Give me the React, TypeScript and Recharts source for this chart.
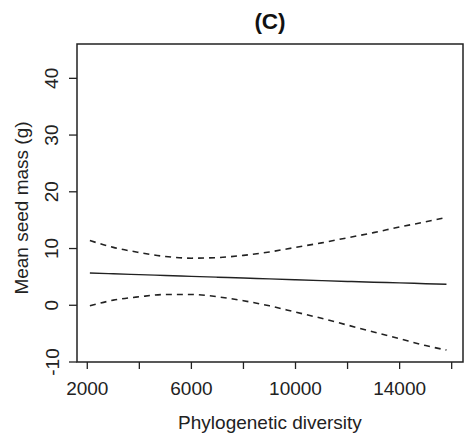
import { LineChart, Line, XAxis, YAxis, ReferenceArea, Label } from "recharts";

// values
const diversity = [2100, 3000, 4000, 5000, 6000, 7000, 8000, 9000, 10000, 11000, 12000, 13000, 14000, 15000, 15800];
const fitted = [5.7, 5.55, 5.4, 5.25, 5.1, 4.95, 4.8, 4.65, 4.5, 4.35, 4.2, 4.05, 3.95, 3.8, 3.7];
const upperCI = [11.4, 10.2, 9.3, 8.6, 8.3, 8.4, 8.8, 9.4, 10.2, 11.0, 11.9, 12.8, 13.8, 14.7, 15.5];
const lowerCI = [-0.1, 0.9, 1.5, 1.9, 1.9, 1.5, 0.8, -0.1, -1.2, -2.3, -3.5, -4.7, -5.9, -7.1, -7.9];

const xTicks = [2000, 4000, 6000, 8000, 10000, 12000, 14000, 16000];
const xLabelled = [2000, 6000, 10000, 14000];
const yTicks = [-10, 0, 10, 20, 30, 40];

const xDomain = [1605, 16435];
const yDomain = [-10, 46.05];

const data = diversity.map((d, i) => ({
  x: d,
  fit: fitted[i],
  upper: upperCI[i],
  lower: lowerCI[i],
}));

const font = '"Liberation Sans", Arial, sans-serif';
const ink = "#222";

function XTick(props: any) {
  const { x, y, payload } = props;
  if (!xLabelled.includes(payload.value)) return null;
  return (
    <text x={x} y={y + 17} textAnchor="middle" dominantBaseline="central" fontSize={19} fontFamily={font} fill={ink}>
      {payload.value}
    </text>
  );
}

function YTick(props: any) {
  const { x, y, payload } = props;
  const cx = x - 15;
  return (
    <text x={cx} y={y} transform={`rotate(-90 ${cx} ${y})`} textAnchor="middle" dominantBaseline="central" fontSize={19} fontFamily={font} fill={ink}>
      {payload.value}
    </text>
  );
}

export default function App() {
  return (
    <div style={{ position: "absolute", left: 0, top: 0, background: "#fff" }}>
      <LineChart width={465} height={438} data={data} margin={{ top: 44, right: 2, left: 0, bottom: 0 }}>
        <XAxis
          dataKey="x"
          type="number"
          domain={xDomain}
          ticks={xTicks}
          allowDataOverflow
          height={76}
          axisLine={false}
          tickLine={{ stroke: ink, strokeWidth: 1.3 }}
          tickSize={7}
          tick={<XTick />}
          interval={0}
        >
          <Label
            content={({ viewBox }: any) => (
              <text x={viewBox.x + viewBox.width / 2} y={422.7} textAnchor="middle" dominantBaseline="central" fontSize={19} fontFamily={font} fill={ink}>
                Phylogenetic diversity
              </text>
            )}
          />
        </XAxis>
        <YAxis
          type="number"
          domain={yDomain}
          ticks={yTicks}
          allowDataOverflow
          width={77}
          axisLine={false}
          tickLine={{ stroke: ink, strokeWidth: 1.3 }}
          tickSize={8}
          tick={<YTick />}
          interval={0}
        >
          <Label
            content={() => (
              <text x={21.7} y={208} transform="rotate(-90 21.7 208)" textAnchor="middle" dominantBaseline="central" fontSize={19} fontFamily={font} fill={ink}>
                Mean seed mass (g)
              </text>
            )}
          />
        </YAxis>
        <ReferenceArea
          x1={xDomain[0]}
          x2={xDomain[1]}
          y1={yDomain[0]}
          y2={yDomain[1]}
          fill="none"
          fillOpacity={0}
          stroke={ink}
          strokeWidth={1.5}
          ifOverflow="visible"
        >
          <Label
            content={() => (
              <text x={270} y={21} textAnchor="middle" dominantBaseline="central" fontSize={22.5} fontWeight="bold" fontFamily={font} fill="#111">
                (C)
              </text>
            )}
          />
        </ReferenceArea>
        <Line dataKey="upper" type="monotone" stroke={ink} strokeWidth={1.6} strokeDasharray="6 5" dot={false} isAnimationActive={false} />
        <Line dataKey="fit" type="monotone" stroke={ink} strokeWidth={1.4} dot={false} isAnimationActive={false} />
        <Line dataKey="lower" type="monotone" stroke={ink} strokeWidth={1.6} strokeDasharray="6 5" dot={false} isAnimationActive={false} />
      </LineChart>
    </div>
  );
}
